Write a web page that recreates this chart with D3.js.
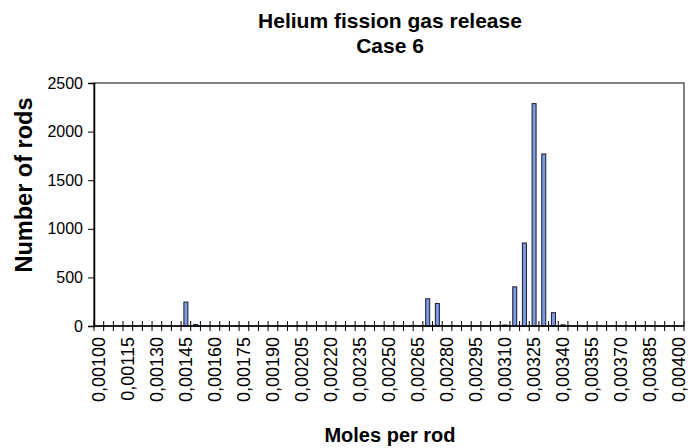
<html>
<head>
<meta charset="utf-8"/>
<script src="https://d3js.org/d3.v7.min.js"></script>
</head>
<body style="margin:0">
<div id="v"></div>
<script type="text/javascript">
// categories 0,00100 .. 0,00400 in steps of 0,00005
var categories = ["0,00100","0,00105","0,00110","0,00115","0,00120","0,00125","0,00130","0,00135","0,00140","0,00145",
  "0,00150","0,00155","0,00160","0,00165","0,00170","0,00175","0,00180","0,00185","0,00190","0,00195",
  "0,00200","0,00205","0,00210","0,00215","0,00220","0,00225","0,00230","0,00235","0,00240","0,00245",
  "0,00250","0,00255","0,00260","0,00265","0,00270","0,00275","0,00280","0,00285","0,00290","0,00295",
  "0,00300","0,00305","0,00310","0,00315","0,00320","0,00325","0,00330","0,00335","0,00340","0,00345",
  "0,00350","0,00355","0,00360","0,00365","0,00370","0,00375","0,00380","0,00385","0,00390","0,00395","0,00400"];
var rods = [0,0,0,0,0,0,0,0,0,246,
  15,0,0,0,0,0,0,0,0,0,
  0,0,0,0,0,0,0,0,0,0,
  0,0,0,0,280,232,0,0,0,0,
  0,0,10,403,854,2288,1770,137,12,0,
  0,0,0,0,0,0,0,0,0,0,0];
var yTicks = [0,500,1000,1500,2000,2500];

(function() {
  var width = 688, height = 448;
  var left = 94, right = 684, top = 83, bottom = 326;

  var svg = d3.select("#v").append("svg")
    .attr("width", width)
    .attr("height", height)
    .style("font-family", "Arial, 'Liberation Sans', sans-serif");

  var x = d3.scaleBand().domain(categories).range([left, right]);
  var y = d3.scaleLinear().domain([0, 2500]).range([bottom, top]);

  // plot frame
  svg.append("rect")
    .attr("x", left).attr("y", top)
    .attr("width", right - left).attr("height", bottom - top)
    .attr("fill", "none").attr("stroke", "#333").attr("stroke-width", 1.2);

  var bw = 4;
  svg.selectAll(".bar")
    .data(rods).enter()
    .append("rect")
    .attr("class", "bar")
    .attr("x", function(d, i) { return x(categories[i]) + x.bandwidth()/2 - bw/2; })
    .attr("y", function(d) { return y(d); })
    .attr("width", bw)
    .attr("height", function(d) { return bottom - y(d); })
    .attr("fill", "#7e9be0")
    .attr("stroke", "#1a1a2e")
    .attr("stroke-width", 1)
    .style("display", function(d) { return d > 0 ? null : "none"; });

  // y axis
  var yAxis = d3.axisLeft(y).tickValues(yTicks).tickSize(6).tickPadding(5).tickFormat(d3.format("d"));
  var gy = svg.append("g").attr("transform", "translate(" + left + ",0)").call(yAxis);
  gy.select(".domain").attr("stroke", "#000").attr("stroke-width", 1.5);
  gy.selectAll("text").style("font-size", "16px").attr("fill", "#000");

  // x axis: cross ticks at category boundaries
  var gx = svg.append("g");
  gx.append("line")
    .attr("x1", left).attr("x2", right).attr("y1", bottom).attr("y2", bottom)
    .attr("stroke", "#000").attr("stroke-width", 1.5);
  gx.selectAll(".xt")
    .data(d3.range(categories.length + 1)).enter()
    .append("line")
    .attr("x1", function(i) { return left + i * x.step(); })
    .attr("x2", function(i) { return left + i * x.step(); })
    .attr("y1", bottom - 5).attr("y2", bottom + 5)
    .attr("stroke", "#000").attr("stroke-width", 1);
  gx.selectAll(".xl")
    .data(categories.filter(function(d, i) { return i % 3 === 0; })).enter()
    .append("text")
    .attr("transform", function(d) { return "translate(" + (x(d) + x.bandwidth()/2 + 6) + "," + (bottom + 11) + ") rotate(-90)"; })
    .attr("text-anchor", "end")
    .style("font-size", "18px")
    .text(function(d) { return d; });

  // titles
  svg.append("text").attr("x", 390).attr("y", 28).attr("text-anchor", "middle")
    .style("font-size", "21px").style("font-weight", "bold").text("Helium fission gas release");
  svg.append("text").attr("x", 390).attr("y", 53).attr("text-anchor", "middle")
    .style("font-size", "21px").style("font-weight", "bold").text("Case 6");
  svg.append("text").attr("x", 390).attr("y", 442).attr("text-anchor", "middle")
    .style("font-size", "20px").style("font-weight", "bold").text("Moles per rod");
  svg.append("text").attr("transform", "translate(32,185) rotate(-90)").attr("text-anchor", "middle")
    .style("font-size", "23.5px").style("font-weight", "bold").text("Number of rods");
})();
</script>
</body>
</html>
